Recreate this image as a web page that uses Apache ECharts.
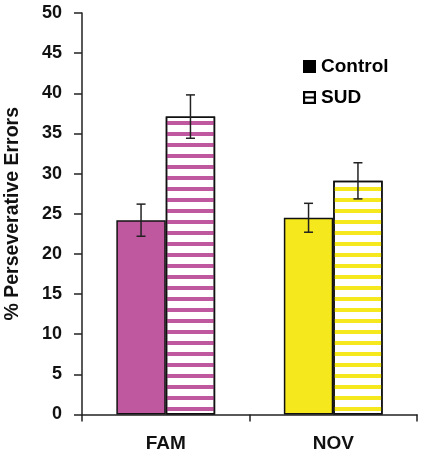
<!DOCTYPE html>
<html>
<head>
<meta charset="utf-8">
<script src="https://cdn.jsdelivr.net/npm/echarts@6/dist/echarts.min.js"></script>
<style>
  html, body { margin: 0; padding: 0; background: #fff; }
  #main { width: 427px; height: 456px; }
</style>
</head>
<body>
<div id="main"></div>
<script>
var categories = ['FAM', 'NOV'];
var controlMeans = [24.2, 24.5];
var controlErr = [2.0, 1.8];
var sudMeans = [37.1, 29.1];
var sudErr = [2.7, 2.25];
var yTicks = [0, 50, 5];
var groupColors = ['#c058a0', '#f5e81c'];

var font = '"Liberation Sans", Arial, sans-serif';
var chartDom = document.getElementById('main');
var myChart = echarts.init(chartDom);

// error bar rows: [category index, low, high, side]
var errRows = [];
categories.forEach(function (c, i) {
    errRows.push([i, controlMeans[i] - controlErr[i], controlMeans[i] + controlErr[i], -1]);
    errRows.push([i, sudMeans[i] - sudErr[i], sudMeans[i] + sudErr[i], 1]);
});

var option = {
    animation: false,
    textStyle: { fontFamily: font },
    grid: { left: 82, right: 10, top: 13, bottom: 41.5, containLabel: false, outerBoundsMode: 'none' },
    legend: {
        orient: 'vertical',
        left: 298,
        top: 52,
        itemWidth: 13,
        itemHeight: 13,
        itemGap: 12,
        textStyle: { fontSize: 19, fontWeight: 'bold', color: '#000', fontFamily: font },
        data: [
            { name: 'Control', icon: 'rect', itemStyle: { color: '#000', borderWidth: 0, decal: null } },
            {
                name: 'SUD',
                icon: 'path://M0,0H12V12H0Z M2,2V5H10V2Z M2,7V10H10V7Z',
                itemStyle: { color: '#000', borderWidth: 0, decal: null }
            }
        ]
    },
    xAxis: {
        type: 'category',
        data: categories,
        axisLine: { lineStyle: { color: '#222', width: 1.5 } },
        axisTick: { show: true, length: 7, lineStyle: { color: '#222', width: 1.5 } },
        axisLabel: { fontSize: 19, fontWeight: 'bold', color: '#111', margin: 20 }
    },
    yAxis: {
        type: 'value',
        min: yTicks[0],
        max: yTicks[1],
        interval: yTicks[2],
        name: '% Perseverative Errors',
        nameLocation: 'middle',
        nameGap: 59,
        nameTextStyle: { fontSize: 19.5, fontWeight: 'bold', color: '#111' },
        axisLine: { show: true, lineStyle: { color: '#222', width: 1.5 } },
        axisTick: { show: true, length: 8, lineStyle: { color: '#222', width: 1.5 } },
        axisLabel: { fontSize: 18, fontWeight: 'bold', color: '#111', margin: 20 },
        splitLine: { show: false }
    },
    series: [
        {
            name: 'Control',
            type: 'bar',
            barWidth: '29.5%',
            barGap: '0%',
            data: controlMeans.map(function (v, i) {
                return { value: v, itemStyle: { color: groupColors[i] } };
            }),
            itemStyle: { borderColor: '#111', borderWidth: 1.5 }
        },
        {
            name: 'SUD',
            type: 'bar',
            barWidth: '29.5%',
            barGap: '0%',
            data: sudMeans.map(function (v, i) {
                return {
                    value: v,
                    itemStyle: {
                        color: '#fff',
                        decal: {
                            symbol: 'rect',
                            color: groupColors[i],
                            dashArrayX: [1, 0],
                            dashArrayY: [4, 7],
                            rotation: 0
                        }
                    }
                };
            }),
            itemStyle: { borderColor: '#111', borderWidth: 1.5 }
        },
        {
            type: 'custom',
            name: 'err',
            z: 10,
            data: errRows,
            renderItem: function (params, api) {
                var band = api.size([1, 0])[0];
                var off = api.value(3) * band * 0.1475;
                var lo = api.coord([api.value(0), api.value(1)]);
                var hi = api.coord([api.value(0), api.value(2)]);
                var x = lo[0] + off;
                var cap = 4.5;
                var st = { stroke: '#222', lineWidth: 1.5 };
                return {
                    type: 'group',
                    children: [
                        { type: 'line', shape: { x1: x, y1: lo[1], x2: x, y2: hi[1] }, style: st },
                        { type: 'line', shape: { x1: x - cap, y1: hi[1], x2: x + cap, y2: hi[1] }, style: st },
                        { type: 'line', shape: { x1: x - cap, y1: lo[1], x2: x + cap, y2: lo[1] }, style: st }
                    ]
                };
            }
        }
    ]
};

option && myChart.setOption(option);
</script>
</body>
</html>
